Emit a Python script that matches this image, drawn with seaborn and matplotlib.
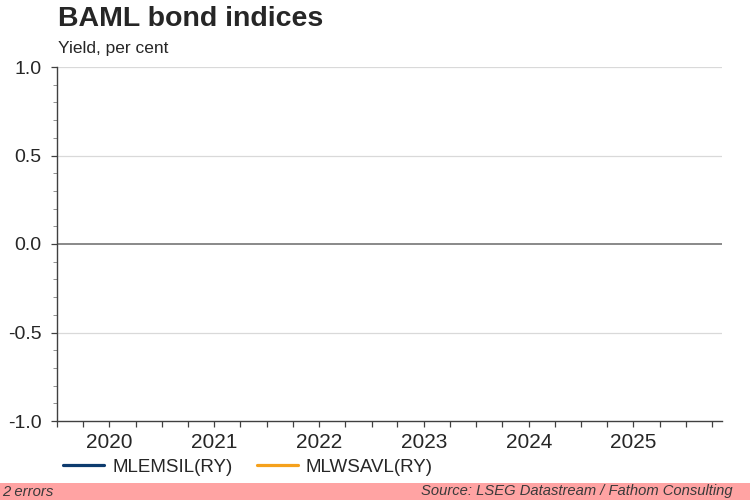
import matplotlib
matplotlib.use("Agg")
import matplotlib.pyplot as plt
import matplotlib.dates as mdates
from matplotlib.patches import Rectangle
from matplotlib.ticker import MultipleLocator, FixedLocator, NullFormatter, FixedFormatter
import pandas as pd
import seaborn as sns

# ---- data (the reference chart shows no data points) ----
series_names = ["MLEMSIL(RY)", "MLWSAVL(RY)"]
series_colors = ["#0d3b6e", "#f5a11c"]
mlemsil_dates = []
mlemsil_values = []
mlwsavl_dates = []
mlwsavl_values = []
year_labels = ["2020", "2021", "2022", "2023", "2024", "2025"]
y_ticks = [-1.0, -0.5, 0.0, 0.5, 1.0]
x_start = "2020-01-01"
x_end = "2026-05-06"

sns.set_theme(style="white")
plt.rcParams["font.family"] = ["Liberation Sans", "DejaVu Sans"]

fig = plt.figure(figsize=(7.5, 5), dpi=100)
fig.patch.set_facecolor("white")
ax = fig.add_axes([57 / 750, 1 - 421 / 500, (722 - 57) / 750, (421 - 67) / 500])

series = [(mlemsil_dates, mlemsil_values), (mlwsavl_dates, mlwsavl_values)]
for (d, v), name, col in zip(series, series_names, series_colors):
    ax.plot(pd.to_datetime(pd.Series(d, dtype="object")), v, color=col, lw=2.3, label=name)

ax.set_xlim(pd.Timestamp(x_start), pd.Timestamp(x_end))
ax.set_ylim(min(y_ticks), max(y_ticks))

# gridlines
for yv in y_ticks:
    if yv == 0.0:
        ax.axhline(yv, color="#808080", lw=1.3, zorder=1)
    elif yv != min(y_ticks):
        ax.axhline(yv, color="#d9d9d9", lw=0.9, zorder=0)

# spines
for s in ["top", "right"]:
    ax.spines[s].set_visible(False)
for s in ["left", "bottom"]:
    ax.spines[s].set_color("#404040")
    ax.spines[s].set_linewidth(1.0)

# y ticks
ax.yaxis.set_major_locator(FixedLocator(y_ticks))
ax.yaxis.set_minor_locator(MultipleLocator(0.1))
ax.set_yticklabels([f"{t:.1f}" for t in y_ticks])
ax.tick_params(axis="y", which="major", direction="out", length=4, width=0.9,
               color="#404040", labelsize=14, labelcolor="#262626", pad=7, left=True)
ax.tick_params(axis="y", which="minor", direction="out", length=3, width=0.7,
               color="#909090", left=True)

# x ticks: quarterly ticks without labels, year labels at mid-year
ax.xaxis.set_major_locator(mdates.MonthLocator(bymonth=[1, 4, 7, 10]))
ax.xaxis.set_major_formatter(NullFormatter())
mid_years = [mdates.date2num(pd.Timestamp(f"{y}-07-02")) for y in year_labels]
ax.xaxis.set_minor_locator(FixedLocator(mid_years))
ax.xaxis.set_minor_formatter(FixedFormatter(year_labels))
ax.tick_params(axis="x", which="major", direction="out", length=4, width=0.9,
               color="#404040", bottom=True)
ax.tick_params(axis="x", which="minor", length=0, labelsize=15,
               labelcolor="#262626", pad=8.5, bottom=True)

ax.set_xlabel("")
ax.set_ylabel("")

# title and subtitle
fig.text(58 / 750, 1 - 26 / 500, "BAML bond indices", fontsize=20.5, fontweight="bold",
         color="#262626", ha="left", va="baseline")
fig.text(58 / 750, 1 - 53 / 500, "Yield, per cent", fontsize=12.5,
         color="#262626", ha="left", va="baseline")

# legend
leg = fig.legend(loc="center left", bbox_to_anchor=(63 / 750, 1 - 467 / 500), ncol=2,
                 frameon=False, fontsize=13.5, handlelength=2.2, handletextpad=0.42,
                 columnspacing=1.3, borderpad=0, borderaxespad=0)
for t in leg.get_texts():
    t.set_color("#262626")

# footer band
fig.patches.append(Rectangle((0, 0), 1, 17 / 500, transform=fig.transFigure,
                             facecolor="#ffa3a3", edgecolor="none", zorder=0))
fig.text(2 / 750, 8.5 / 500, "2 errors", fontsize=10.7, style="italic",
         color="#3a3a3a", ha="left", va="center")
fig.text(733 / 750, 8.5 / 500, "Source: LSEG Datastream / Fathom Consulting", fontsize=10.6,
         style="italic", color="#3a3a3a", ha="right", va="center")

fig.savefig("out.png", dpi=100, facecolor="white")
